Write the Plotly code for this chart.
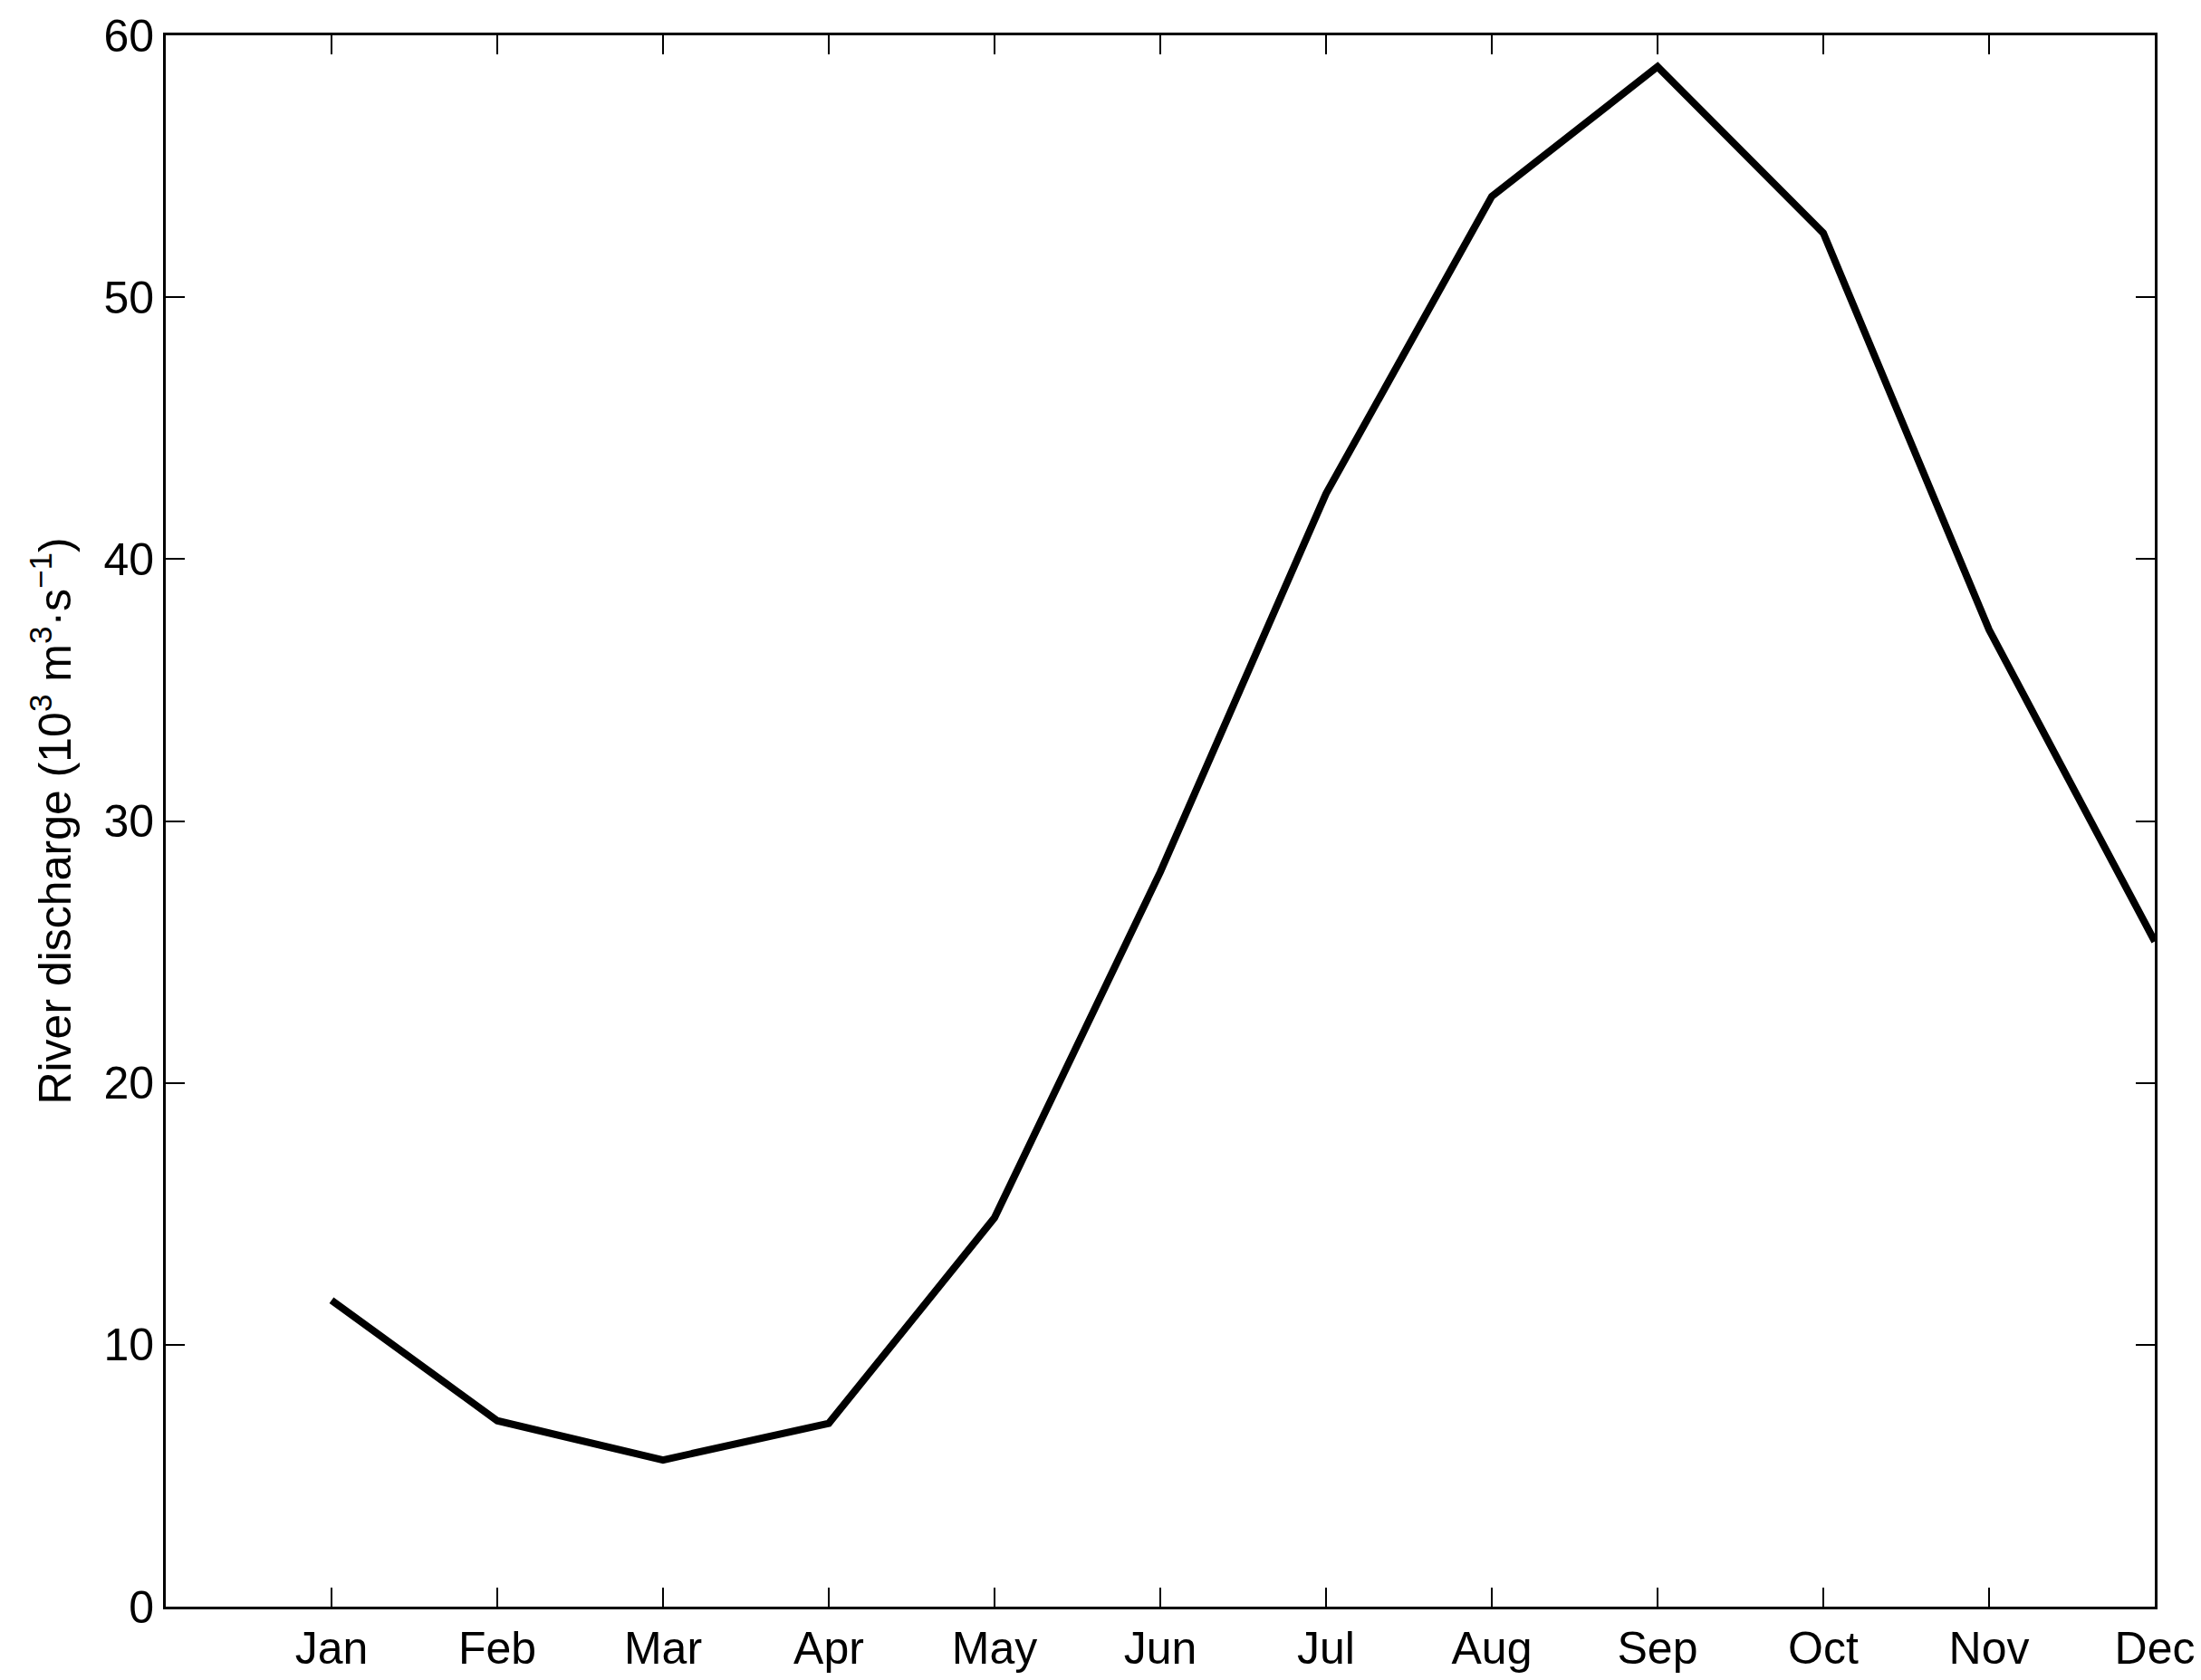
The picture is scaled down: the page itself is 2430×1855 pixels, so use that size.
import plotly.graph_objects as go

months = ['Jan', 'Feb', 'Mar', 'Apr', 'May', 'Jun',
          'Jul', 'Aug', 'Sep', 'Oct', 'Nov', 'Dec']
month_idx = [1, 2, 3, 4, 5, 6, 7, 8, 9, 10, 11, 12]
discharge = [11.7, 7.1, 5.6, 7.0, 14.85, 28.05, 42.5, 53.85, 58.8, 52.45, 37.3, 25.4]
y_ticks = [0, 10, 20, 30, 40, 50, 60]

fig = go.Figure()

fig.add_trace(go.Scatter(
    x=month_idx,
    y=discharge,
    mode='lines',
    line=dict(color='black', width=8),
    showlegend=False
))

axis_style = dict(
    showline=True,
    linecolor='black',
    linewidth=3,
    mirror='ticks',
    ticks='inside',
    ticklen=21,
    tickwidth=2,
    tickcolor='black',
    showgrid=False,
    zeroline=False,
    automargin=False,
    tickfont=dict(family='Liberation Sans, Arial, sans-serif', size=50, color='black')
)

# page body adds an 8px offset, margins below account for it
fig.update_layout(
    width=2430,
    height=1855,
    paper_bgcolor='white',
    plot_bgcolor='white',
    margin={"l": 175, "r": 59, "t": 31, "b": 89},
    xaxis=dict(
        range=[0, 12],
        tickvals=month_idx,
        ticktext=months,
        **axis_style
    ),
    yaxis=dict(
        range=[0, 60],
        tickvals=y_ticks,
        title=dict(
            text='River discharge (10<sup>3</sup> m<sup>3</sup>·s<sup>−1</sup>)',
            font=dict(family='Liberation Sans, Arial, sans-serif', size=50, color='black'),
            standoff=20
        ),
        **axis_style
    )
)

fig.write_html("out.html")
